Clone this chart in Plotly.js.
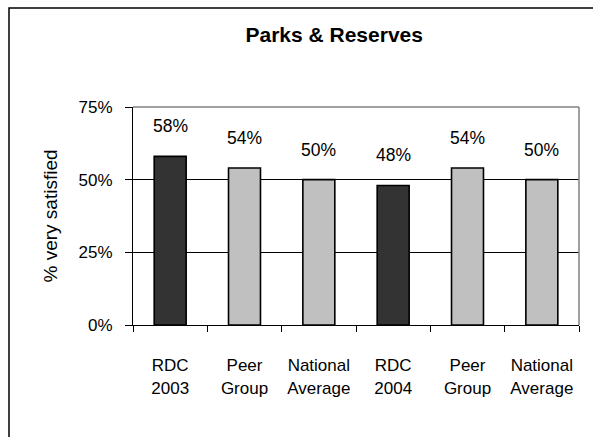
<!DOCTYPE html>
<html>
<head>
<meta charset="utf-8">
<script src="https://cdn.plot.ly/plotly-3.0.1.min.js"></script>
<style>
  html, body { margin: 0; padding: 0; background: #fff; }
  #chart { width: 593px; height: 437px; }
</style>
</head>
<body>
<div id="chart"></div>
<script>
// ---- data ----
const categories = ["RDC<br>2003", "Peer<br>Group", "National<br>Average", "RDC<br>2004", "Peer<br>Group", "National<br>Average"];
const values = [58, 54, 50, 48, 54, 50];
const valueLabels = ["58%", "54%", "50%", "48%", "54%", "50%"];
const barColors = ["#333333", "#c0c0c0", "#c0c0c0", "#333333", "#c0c0c0", "#c0c0c0"];
const yTickVals = [0, 25, 50, 75];
const yTickText = ["0%", "25%", "50%", "75%"];

const positions = categories.map((_, i) => i);
const boundaries = [-0.5].concat(positions.map(i => i + 0.5));

const sans = '"Liberation Sans", Arial, sans-serif';

const trace = {
  type: 'bar',
  x: positions,
  y: values,
  marker: { color: barColors, line: { color: '#000000', width: 1.6 } },
  hoverinfo: 'none'
};

const annotations = positions.map((p, i) => ({
  x: p, y: values[i], xref: 'x', yref: 'y',
  text: valueLabels[i], showarrow: false,
  yanchor: 'middle', yshift: 30,
  font: { family: sans, size: 17.5, color: '#000' }
}));

const layout = {
  width: 593, height: 437,
  margin: { l: 133, r: 14, t: 107, b: 112 },
  paper_bgcolor: '#ffffff', plot_bgcolor: '#ffffff',
  showlegend: false,
  bargap: 0.57,
  title: {
    text: 'Parks & Reserves',
    font: { family: sans, size: 21, color: '#000', weight: 'bold' },
    x: 267.5 / 593, xanchor: 'center', xref: 'paper',
    y: 1 - 35 / 437, yanchor: 'middle', yref: 'container'
  },
  xaxis: {
    range: [-0.5, categories.length - 0.5],
    tickmode: 'array', tickvals: positions, ticktext: categories,
    ticks: '', showgrid: false, zeroline: false,
    showline: true, linecolor: '#000', linewidth: 1,
    tickfont: { family: sans, size: 17, color: '#000' },
    ticklabelstandoff: 25,
    minor: { tickmode: 'array', tickvals: boundaries, ticks: 'outside', ticklen: 6, tickcolor: '#000', tickwidth: 1, showgrid: false },
    fixedrange: true
  },
  yaxis: {
    range: [0, 75],
    tickmode: 'array', tickvals: yTickVals, ticktext: yTickText,
    ticks: 'outside', ticklen: 7, tickcolor: '#000', tickwidth: 1,
    showgrid: true, gridcolor: '#000', gridwidth: 1,
    zeroline: false,
    showline: true, linecolor: '#000', linewidth: 1,
    tickfont: { family: sans, size: 17, color: '#000' },
    ticklabelstandoff: 9,
    title: { text: '% very satisfied', font: { family: sans, size: 19, color: '#000' }, standoff: 15 },
    fixedrange: true
  },
  annotations: annotations,
  shapes: [
    { type: 'line', xref: 'paper', yref: 'paper', x0: 0, x1: 1, y0: 1, y1: 1, line: { color: '#808080', width: 1.5 }, layer: 'above' },
    { type: 'line', xref: 'paper', yref: 'paper', x0: 1, x1: 1, y0: 0, y1: 1, line: { color: '#808080', width: 1.5 }, layer: 'above' },
    { type: 'rect', xref: 'paper', yref: 'paper', x0: (9 - 133) / 446, x1: (620 - 133) / 446, y0: (325 - 470) / 218, y1: (325 - 8) / 218, line: { color: '#000', width: 1.5 }, fillcolor: 'rgba(0,0,0,0)', layer: 'below' }
  ]
};

Plotly.newPlot('chart', [trace], layout, { displayModeBar: false, staticPlot: true });
</script>
</body>
</html>
